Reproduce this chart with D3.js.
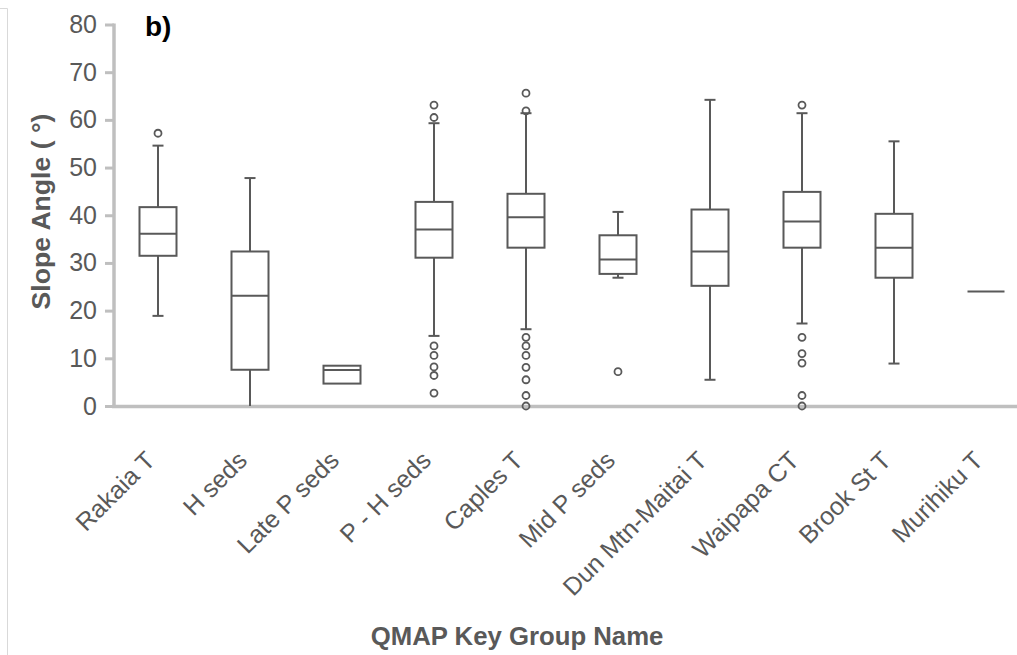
<!DOCTYPE html>
<html>
<head>
<meta charset="utf-8">
<script src="https://cdn.jsdelivr.net/npm/d3@7/dist/d3.min.js"></script>
<style>
  html, body { margin: 0; padding: 0; background: #fff; }
  svg { display: block; }
  text { font-family: Arial, "Liberation Sans", sans-serif; }
</style>
</head>
<body>
<svg id="chart" width="1017" height="655"></svg>
<script>
// Slope angle distribution per QMAP key group
const categories = ["Rakaia T", "H seds", "Late P seds", "P - H seds", "Caples T",
  "Mid P seds", "Dun Mtn-Maitai T", "Waipapa CT", "Brook St T", "Murihiku T"];
const q1 =          [31.5, 7.6, 4.7, 31.1, 33.2, 27.7, 25.2, 33.2, 26.9, 24.0];
const medians =     [36.1, 23.1, 7.55, 37.0, 39.6, 30.7, 32.4, 38.7, 33.2, 24.0];
const q3 =          [41.7, 32.4, 8.45, 42.8, 44.5, 35.8, 41.2, 44.9, 40.3, 24.0];
const whiskerLow =  [18.9, 0, null, 14.7, 16.1, 26.9, 5.5, 17.3, 8.9, null];
const whiskerHigh = [54.6, 47.8, null, 59.3, 61.4, 40.7, 64.2, 61.4, 55.5, null];
const outliers = [
  [57.2],
  [],
  [],
  [63.1, 60.5, 12.6, 10.6, 8.2, 6.4, 2.7],
  [65.6, 61.9, 14.4, 12.6, 10.6, 8.1, 5.5, 2.2, 0],
  [7.2],
  [],
  [63.1, 14.4, 11.0, 9.0, 2.2, 0],
  [],
  []
];
const yTicks = [0, 10, 20, 30, 40, 50, 60, 70, 80];

const svg = d3.select("#chart");
const ink = "#595959";
const axisGrey = "#bfbfbf";

const x = d3.scaleBand().domain(categories).range([112, 1032]).padding(0);
const y = d3.scaleLinear().domain([0, 80]).range([406, 24.5]);

// edge of the neighbouring panel frame
svg.append("path")
  .attr("d", "M0,8.5H7.5V655")
  .attr("fill", "none").attr("stroke", "#d9d9d9").attr("stroke-width", 1);

// y axis
const yAxis = svg.append("g").attr("transform", "translate(114,0)")
  .call(d3.axisLeft(y).tickValues(yTicks).tickSize(9).tickPadding(8).tickFormat(d3.format("d")));
yAxis.select(".domain").remove();
yAxis.selectAll(".tick line").attr("stroke", axisGrey).attr("stroke-width", 3);
yAxis.selectAll(".tick text")
  .attr("fill", ink).attr("font-size", 25)
  .attr("font-family", "Arial, 'Liberation Sans', sans-serif");
yAxis.append("line").attr("x1", 0).attr("x2", 0).attr("y1", y(80) - 1).attr("y2", y(0) + 2)
  .attr("stroke", axisGrey).attr("stroke-width", 3.5);

// x axis
const xAxis = svg.append("g").attr("transform", `translate(0,${y(0)})`)
  .call(d3.axisBottom(x).tickSize(0).tickPadding(0));
xAxis.select(".domain").remove();
xAxis.append("line").attr("x1", 112).attr("x2", 1017).attr("y1", 0.5).attr("y2", 0.5)
  .attr("stroke", axisGrey).attr("stroke-width", 3.5);
xAxis.selectAll(".tick text")
  .attr("fill", ink).attr("font-size", 25)
  .attr("font-family", "Arial, 'Liberation Sans', sans-serif")
  .attr("text-anchor", "end")
  .attr("dy", 0).attr("y", 0)
  .attr("transform", "translate(-1.5,56) rotate(-45)");

// boxes
const boxW = 37, capW = 11;
const g = svg.append("g").attr("stroke", ink).attr("stroke-width", 2).attr("fill", "none");
categories.forEach((c, i) => {
  const cx = x(c) + x.bandwidth() / 2;
  if (whiskerHigh[i] != null) {
    g.append("line").attr("x1", cx).attr("x2", cx).attr("y1", y(q3[i])).attr("y2", y(whiskerHigh[i]));
    g.append("line").attr("x1", cx - capW / 2).attr("x2", cx + capW / 2)
      .attr("y1", y(whiskerHigh[i])).attr("y2", y(whiskerHigh[i]));
  }
  if (whiskerLow[i] != null) {
    g.append("line").attr("x1", cx).attr("x2", cx).attr("y1", y(q1[i])).attr("y2", y(whiskerLow[i]));
    if (whiskerLow[i] > 0) {
      g.append("line").attr("x1", cx - capW / 2).attr("x2", cx + capW / 2)
        .attr("y1", y(whiskerLow[i])).attr("y2", y(whiskerLow[i]));
    }
  }
  if (q3[i] > q1[i]) {
    g.append("rect").attr("x", cx - boxW / 2).attr("y", y(q3[i]))
      .attr("width", boxW).attr("height", y(q1[i]) - y(q3[i])).attr("fill", "#fff");
  }
  g.append("line").attr("x1", cx - boxW / 2).attr("x2", cx + boxW / 2)
    .attr("y1", y(medians[i])).attr("y2", y(medians[i]));
  outliers[i].forEach(v => {
    g.append("circle").attr("cx", cx).attr("cy", y(v)).attr("r", 3.5)
      .attr("stroke-width", 1.8).attr("fill", "none");
  });
});

// titles
svg.append("text").attr("transform", "translate(50,211.5) rotate(-90)")
  .attr("text-anchor", "middle").attr("font-size", 26.6).attr("font-weight", "bold")
  .attr("fill", ink).text("Slope Angle ( °)");

svg.append("text").attr("transform", "translate(517,645) scale(1.03,1)")
  .attr("text-anchor", "middle").attr("font-size", 25).attr("font-weight", "bold")
  .attr("fill", ink).text("QMAP Key Group Name");

svg.append("text").attr("x", 145).attr("y", 36)
  .attr("font-size", 28).attr("font-weight", "bold").attr("fill", "#000").text("b)");
</script>
</body>
</html>
